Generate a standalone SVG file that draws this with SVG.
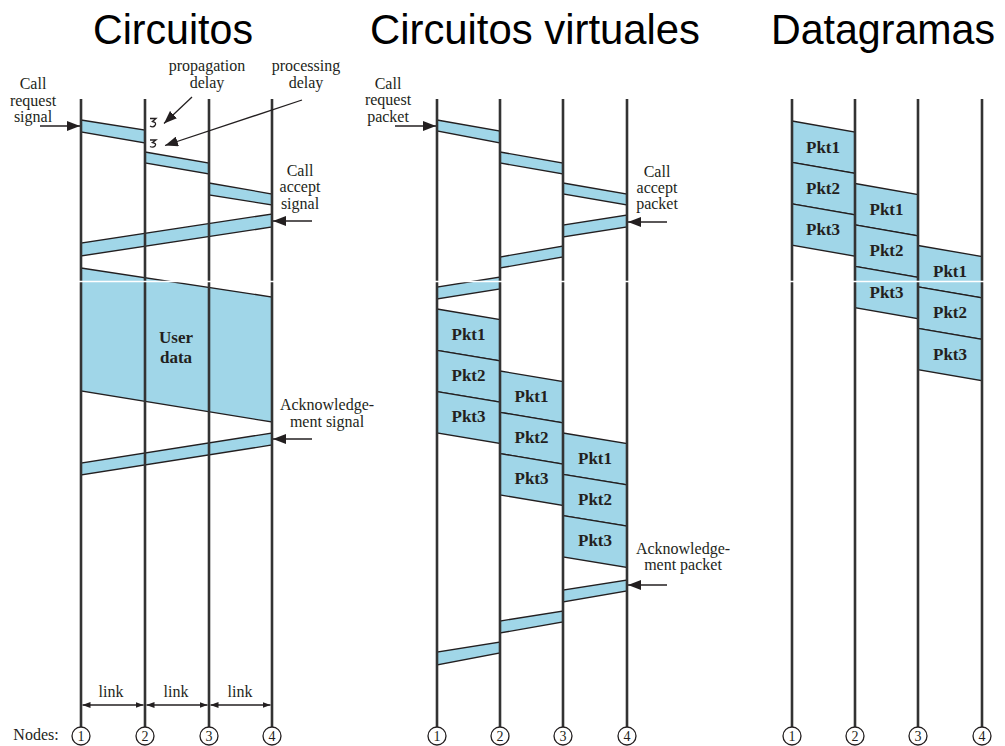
<svg xmlns="http://www.w3.org/2000/svg" width="1005" height="746" viewBox="0 0 1005 746">
<style>
.title{font-family:"Liberation Sans",Arial,sans-serif;font-size:42px;fill:#000}
.lbl{font-family:"Liberation Serif","Times New Roman",serif;font-size:16px;fill:#231f20;text-anchor:middle}
.pk{font-family:"Liberation Serif","Times New Roman",serif;font-size:17px;font-weight:bold;fill:#231f20;text-anchor:middle}
.num{font-family:"Liberation Serif","Times New Roman",serif;font-size:14px;fill:#231f20;text-anchor:middle}
.band{fill:#a0d6e8;stroke:#231f20;stroke-width:1.3;stroke-linejoin:miter}
.vl{stroke:#333;stroke-width:2.6;fill:none}
.nd{fill:#fff;stroke:#231f20;stroke-width:1.3}
.ar{stroke:#231f20;stroke-width:1.3;fill:none}
.seam{stroke:#fff;stroke-width:1.5}
</style>
<defs>
<marker id="ah" markerWidth="13" markerHeight="10" refX="13" refY="5" orient="auto" markerUnits="userSpaceOnUse"><path d="M0,0 L13,5 L0,10 z" fill="#231f20"/></marker>
<marker id="lh" markerWidth="8" markerHeight="6" refX="8" refY="3" orient="auto-start-reverse" markerUnits="userSpaceOnUse"><path d="M0,0 L8,3 L0,6 z" fill="#231f20"/></marker>
</defs>
<rect width="1005" height="746" fill="#fff"/>

<g id="titles">
<text class="title" x="93" y="44" textLength="160" lengthAdjust="spacingAndGlyphs">Circuitos</text>
<text class="title" x="370" y="44" textLength="330" lengthAdjust="spacingAndGlyphs">Circuitos virtuales</text>
<text class="title" x="771" y="44" textLength="224" lengthAdjust="spacingAndGlyphs">Datagramas</text>
</g>

<!-- Panel 1: Circuitos -->
<g id="circ-bands">
<polygon class="band" points="81,120 145,130 145,143 81,132"/>
<polygon class="band" points="145,152 209,163 209,174 145,163"/>
<polygon class="band" points="209,183 272,194 272,205 209,195"/>
<polygon class="band" points="272,214 272,227 81,256 81,243"/>
<polygon class="band" points="81,268 272,297 272,422 81,391"/>
<polygon class="band" points="272,433 272,445 81,475 81,463"/>
</g>
<g id="circ-lines">
<line class="vl" x1="81" y1="99" x2="81" y2="727"/>
<line class="vl" x1="145" y1="99" x2="145" y2="727"/>
<line class="vl" x1="209" y1="99" x2="209" y2="727"/>
<line class="vl" x1="272" y1="99" x2="272" y2="727"/>
</g>
<g id="circ-delays" class="ar">
<path d="M150,118.5 h6 l-3.5,3 q4.5,1 2.5,4 q-2,2.5 -5,0.5"/>
<path d="M150,140 h6 l-3.5,2.5 q4.5,1 2.5,3.5 q-2,2 -5,0.5"/>
</g>
<g id="circ-text">
<text class="lbl" x="33" y="89">Call</text>
<text class="lbl" x="33" y="105.5">request</text>
<text class="lbl" x="33" y="122">signal</text>
<text class="lbl" x="207" y="71">propagation</text>
<text class="lbl" x="207" y="87.5">delay</text>
<text class="lbl" x="306" y="71">processing</text>
<text class="lbl" x="306" y="87.5">delay</text>
<text class="lbl" x="300" y="176">Call</text>
<text class="lbl" x="300" y="192">accept</text>
<text class="lbl" x="300" y="208.5">signal</text>
<text class="pk" x="176" y="343">User</text>
<text class="pk" x="176" y="363">data</text>
<text class="lbl" x="327" y="410">Acknowledge-</text>
<text class="lbl" x="327" y="426.5">ment signal</text>
<text class="lbl" x="111" y="696.5">link</text>
<text class="lbl" x="176" y="696.5">link</text>
<text class="lbl" x="240" y="696.5">link</text>
<text class="lbl" x="36" y="740">Nodes:</text>
</g>

<!-- Panel 2: Circuitos virtuales -->
<g id="vc-bands">
<polygon class="band" points="437,120 500,131 500,143 437,131"/>
<polygon class="band" points="500,152 563,163 563,174 500,163"/>
<polygon class="band" points="563,183 627,194 627,205 563,194"/>
<polygon class="band" points="627,215 627,227 563,237 563,225"/>
<polygon class="band" points="563,246 563,257 500,268 500,257"/>
<polygon class="band" points="500,277 500,289 437,299 437,287"/>
<polygon class="band" points="627,580 627,591 563,602 563,590"/>
<polygon class="band" points="563,611 563,622 500,633 500,621"/>
<polygon class="band" points="500,642 500,653 437,665 437,652"/>
</g>
<g id="vc-packets">
<polygon class="band" points="437,309 500,319.5 500,360.8 437,350.3"/>
<polygon class="band" points="437,350.3 500,360.8 500,402.1 437,391.6"/>
<polygon class="band" points="437,391.6 500,402.1 500,443.4 437,432.9"/>
<polygon class="band" points="500,371 563,381.5 563,422.8 500,412.3"/>
<polygon class="band" points="500,412.3 563,422.8 563,464.1 500,453.6"/>
<polygon class="band" points="500,453.6 563,464.1 563,505.4 500,494.9"/>
<polygon class="band" points="563,433 627,443.5 627,484.8 563,474.3"/>
<polygon class="band" points="563,474.3 627,484.8 627,526.1 563,515.6"/>
<polygon class="band" points="563,515.6 627,526.1 627,567.4 563,556.9"/>
</g>
<g id="vc-lines">
<line class="vl" x1="437" y1="99" x2="437" y2="727"/>
<line class="vl" x1="500" y1="99" x2="500" y2="727"/>
<line class="vl" x1="563" y1="99" x2="563" y2="727"/>
<line class="vl" x1="627" y1="99" x2="627" y2="727"/>
</g>
<g id="vc-text">
<text class="lbl" x="388" y="88.5">Call</text>
<text class="lbl" x="388" y="104.5">request</text>
<text class="lbl" x="388" y="121.5">packet</text>
<text class="lbl" x="657" y="176.5">Call</text>
<text class="lbl" x="657" y="192.5">accept</text>
<text class="lbl" x="657" y="209">packet</text>
<text class="lbl" x="683" y="554">Acknowledge-</text>
<text class="lbl" x="683" y="570">ment packet</text>
<text class="pk" x="468.5" y="339.5">Pkt1</text>
<text class="pk" x="468.5" y="380.8">Pkt2</text>
<text class="pk" x="468.5" y="422.1">Pkt3</text>
<text class="pk" x="531.5" y="401.5">Pkt1</text>
<text class="pk" x="531.5" y="442.8">Pkt2</text>
<text class="pk" x="531.5" y="484.1">Pkt3</text>
<text class="pk" x="595" y="463.5">Pkt1</text>
<text class="pk" x="595" y="504.8">Pkt2</text>
<text class="pk" x="595" y="546.1">Pkt3</text>
</g>

<!-- Panel 3: Datagramas -->
<g id="dg-packets">
<polygon class="band" points="792,121 855,132 855,173.4 792,162.4"/>
<polygon class="band" points="792,162.4 855,173.4 855,214.8 792,203.8"/>
<polygon class="band" points="792,203.8 855,214.8 855,256.2 792,245.2"/>
<polygon class="band" points="855,183.5 918,194.5 918,235.9 855,224.9"/>
<polygon class="band" points="855,224.9 918,235.9 918,277.3 855,266.3"/>
<polygon class="band" points="855,266.3 918,277.3 918,318.7 855,307.7"/>
<polygon class="band" points="918,245.5 982,256.5 982,297.9 918,286.9"/>
<polygon class="band" points="918,286.9 982,297.9 982,339.3 918,328.3"/>
<polygon class="band" points="918,328.3 982,339.3 982,380.7 918,369.7"/>
</g>
<g id="dg-lines">
<line class="vl" x1="792" y1="99" x2="792" y2="727"/>
<line class="vl" x1="855" y1="99" x2="855" y2="727"/>
<line class="vl" x1="918" y1="99" x2="918" y2="727"/>
<line class="vl" x1="982" y1="99" x2="982" y2="727"/>
</g>
<g id="dg-text">
<text class="pk" x="823" y="152.5">Pkt1</text>
<text class="pk" x="823" y="193.9">Pkt2</text>
<text class="pk" x="823" y="235.3">Pkt3</text>
<text class="pk" x="886.5" y="215">Pkt1</text>
<text class="pk" x="886.5" y="256.4">Pkt2</text>
<text class="pk" x="886.5" y="297.8">Pkt3</text>
<text class="pk" x="950" y="277">Pkt1</text>
<text class="pk" x="950" y="318.4">Pkt2</text>
<text class="pk" x="950" y="359.8">Pkt3</text>
</g>

<g id="seam">
<line class="seam" x1="79" y1="281.5" x2="275" y2="281.5"/>
<line class="seam" x1="435" y1="281.5" x2="629" y2="281.5"/>
<line class="seam" x1="790" y1="281.5" x2="984" y2="281.5"/>
</g>

<!-- Connectors -->
<g id="connectors" class="ar">
<line x1="40" y1="126" x2="80" y2="126" marker-end="url(#ah)"/>
<line x1="192" y1="97" x2="164" y2="123.5" marker-end="url(#ah)"/>
<line x1="302" y1="100" x2="165" y2="145.5" marker-end="url(#ah)"/>
<line x1="312" y1="221" x2="273" y2="221" marker-end="url(#ah)"/>
<line x1="312" y1="439" x2="273" y2="439" marker-end="url(#ah)"/>
<line x1="395" y1="126" x2="436" y2="126" marker-end="url(#ah)"/>
<line x1="667" y1="222" x2="628" y2="222" marker-end="url(#ah)"/>
<line x1="667" y1="585" x2="628" y2="585" marker-end="url(#ah)"/>
<line x1="82.5" y1="705" x2="143.5" y2="705" marker-start="url(#lh)" marker-end="url(#lh)"/>
<line x1="146.5" y1="705" x2="207.5" y2="705" marker-start="url(#lh)" marker-end="url(#lh)"/>
<line x1="210.5" y1="705" x2="270.5" y2="705" marker-start="url(#lh)" marker-end="url(#lh)"/>
</g>

<!-- Nodes -->
<g id="node-c1"><circle class="nd" cx="81" cy="736" r="9"/><text class="num" x="81" y="741">1</text></g>
<g id="node-c2"><circle class="nd" cx="145" cy="736" r="9"/><text class="num" x="145" y="741">2</text></g>
<g id="node-c3"><circle class="nd" cx="209" cy="736" r="9"/><text class="num" x="209" y="741">3</text></g>
<g id="node-c4"><circle class="nd" cx="272" cy="736" r="9"/><text class="num" x="272" y="741">4</text></g>
<g id="node-v1"><circle class="nd" cx="437" cy="736" r="9"/><text class="num" x="437" y="741">1</text></g>
<g id="node-v2"><circle class="nd" cx="500" cy="736" r="9"/><text class="num" x="500" y="741">2</text></g>
<g id="node-v3"><circle class="nd" cx="563" cy="736" r="9"/><text class="num" x="563" y="741">3</text></g>
<g id="node-v4"><circle class="nd" cx="627" cy="736" r="9"/><text class="num" x="627" y="741">4</text></g>
<g id="node-d1"><circle class="nd" cx="792" cy="736" r="9"/><text class="num" x="792" y="741">1</text></g>
<g id="node-d2"><circle class="nd" cx="855" cy="736" r="9"/><text class="num" x="855" y="741">2</text></g>
<g id="node-d3"><circle class="nd" cx="918" cy="736" r="9"/><text class="num" x="918" y="741">3</text></g>
<g id="node-d4"><circle class="nd" cx="982" cy="736" r="9"/><text class="num" x="982" y="741">4</text></g>
</svg>
